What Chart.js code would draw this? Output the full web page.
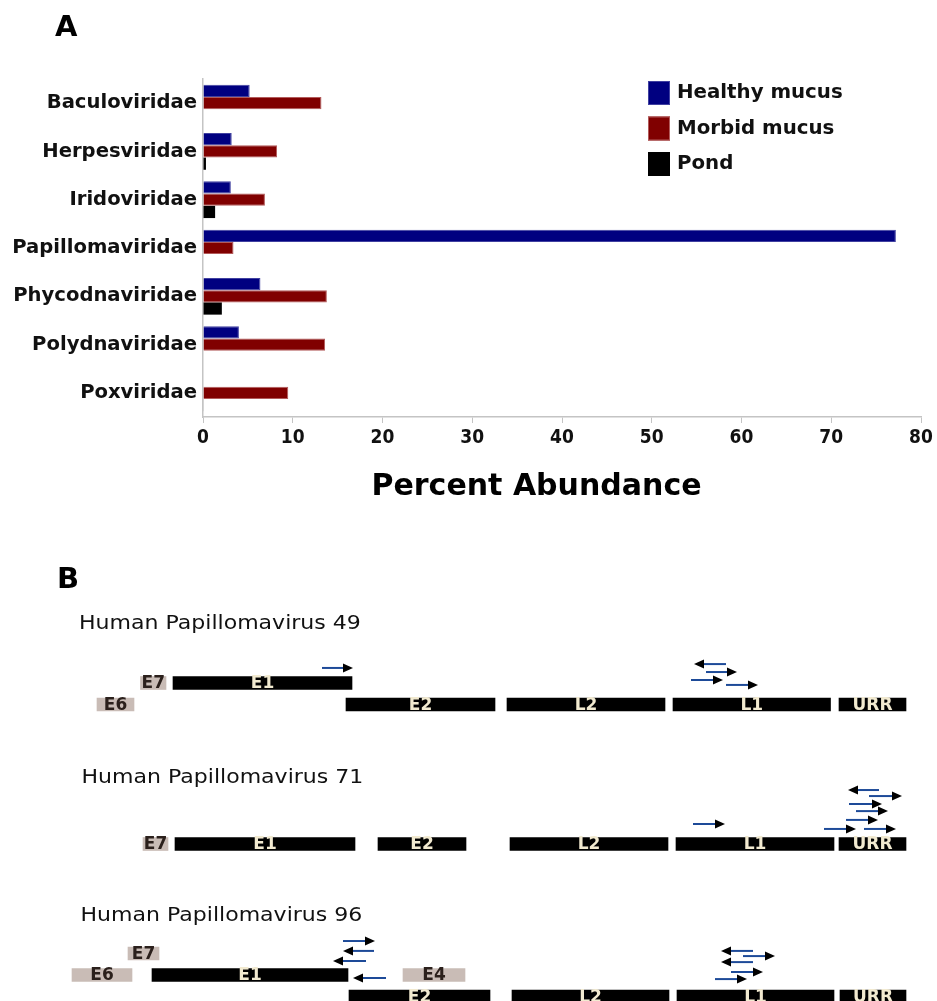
<!DOCTYPE html>
<html>
<head>
<meta charset="utf-8">
<script src="https://cdn.jsdelivr.net/npm/chart.js@4.4.1/dist/chart.umd.min.js"></script>
<style>
  html, body { margin: 0; padding: 0; background: #fff; width: 937px; height: 1001px; overflow: hidden; }
  canvas { position: absolute; left: 0; }
</style>
</head>
<body>
<canvas id="abundance" width="937" height="520" style="top:0px"></canvas>
<canvas id="hpv49" width="937" height="175" style="top:550px"></canvas>
<canvas id="hpv71" width="937" height="100" style="top:760px"></canvas>
<canvas id="hpv96" width="937" height="101" style="top:900px"></canvas>
<script>
// ---------- Panel A: viral family abundance ----------
const families = ['Baculoviridae', 'Herpesviridae', 'Iridoviridae', 'Papillomaviridae',
                  'Phycodnaviridae', 'Polydnaviridae', 'Poxviridae'];
const healthyMucus = [5.2, 3.2, 3.1, 77.2, 6.4, 4.0, 0];
const morbidMucus  = [13.2, 8.25, 6.9, 3.4, 13.8, 13.6, 9.5];
const pond         = [0, 0.33, 1.35, 0, 2.1, 0, 0.05];
const abundanceTicks = [0, 10, 20, 30, 40, 50, 60, 70, 80];
const sampleNames = ['Healthy mucus', 'Morbid mucus', 'Pond'];

// ---------- Panel B: reads mapped onto papillomavirus genomes ----------
// gene extents in genome coordinates; frame = row of the map (0 = lowest)
const hpv49Genes = [
  { gene: 'E6',  start: 970,  end: 1340, frame: 0, minor: true },
  { gene: 'E7',  start: 1405, end: 1660, frame: 1, minor: true },
  { gene: 'E1',  start: 1730, end: 3520, frame: 1 },
  { gene: 'E2',  start: 3460, end: 4950, frame: 0 },
  { gene: 'L2',  start: 5070, end: 6650, frame: 0 },
  { gene: 'L1',  start: 6730, end: 8305, frame: 0 },
  { gene: 'URR', start: 8390, end: 9060, frame: 0 }
];
const hpv49Reads = [
  { from: 3220, to: 3530, level: 1.70 },
  { from: 7260, to: 6940, level: 1.88 },
  { from: 7060, to: 7370, level: 1.51 },
  { from: 6910, to: 7230, level: 1.14 },
  { from: 7260, to: 7580, level: 0.91 }
];

const hpv71Genes = [
  { gene: 'E7',  start: 1430, end: 1680, frame: 0, minor: true },
  { gene: 'E1',  start: 1750, end: 3550, frame: 0 },
  { gene: 'E2',  start: 3780, end: 4660, frame: 0 },
  { gene: 'L2',  start: 5100, end: 6680, frame: 0 },
  { gene: 'L1',  start: 6760, end: 8340, frame: 0 },
  { gene: 'URR', start: 8390, end: 9060, frame: 0 }
];
const hpv71Reads = [
  { from: 8790, to: 8480, level: 2.51 },
  { from: 8690, to: 9020, level: 2.23 },
  { from: 8490, to: 8820, level: 1.86 },
  { from: 8560, to: 8880, level: 1.53 },
  { from: 8460, to: 8780, level: 1.12 },
  { from: 8240, to: 8560, level: 0.70 },
  { from: 8640, to: 8960, level: 0.70 },
  { from: 6930, to: 7250, level: 0.93 }
];

const hpv96Genes = [
  { gene: 'E6',  start: 720,  end: 1320, frame: 1, minor: true },
  { gene: 'E7',  start: 1280, end: 1590, frame: 2, minor: true },
  { gene: 'E1',  start: 1520, end: 3480, frame: 1 },
  { gene: 'E4',  start: 4030, end: 4650, frame: 1, minor: true },
  { gene: 'E2',  start: 3490, end: 4900, frame: 0 },
  { gene: 'L2',  start: 5120, end: 6690, frame: 0 },
  { gene: 'L1',  start: 6770, end: 8340, frame: 0 },
  { gene: 'URR', start: 8400, end: 9060, frame: 0 }
];
const hpv96Reads = [
  { from: 3430, to: 3750, level: 2.58 },
  { from: 3740, to: 3430, level: 2.12 },
  { from: 3660, to: 3330, level: 1.65 },
  { from: 3860, to: 3530, level: 0.86 },
  { from: 7530, to: 7210, level: 2.12 },
  { from: 7430, to: 7750, level: 1.88 },
  { from: 7530, to: 7210, level: 1.60 },
  { from: 7310, to: 7630, level: 1.14 },
  { from: 7150, to: 7470, level: 0.81 }
];
const genomeWindow = [0, 9370];

// ---------- styling ----------
const FAMILY = "'DejaVu Sans', 'Liberation Sans', sans-serif";
const axisGrey = '#c4c4c4';
const sampleColors = ['#000080', '#800000', '#000000'];
const sampleEdges = ['#4040a0', '#b25a5a', '#000000'];

// panel letter, legend and axis title for panel A
const panelAOverlay = {
  id: 'panelAOverlay',
  afterDraw(chart) {
    const ctx = chart.ctx;
    ctx.save();
    ctx.fillStyle = '#000';
    ctx.textBaseline = 'alphabetic';
    ctx.font = `bold 29px ${FAMILY}`;
    ctx.fillText('A', 55, 36);

    // axis title
    ctx.font = `bold 30px ${FAMILY}`;
    ctx.textAlign = 'center';
    ctx.textBaseline = 'middle';
    ctx.fillStyle = '#000';
    ctx.fillText('Percent Abundance', 536.5, 487);

    // legend
    ctx.textAlign = 'left';
    ctx.font = `bold 19.8px ${FAMILY}`;
    chart.data.datasets.forEach((ds, i) => {
      const top = 81 + i * 35.5;
      ctx.fillStyle = ds.backgroundColor;
      ctx.fillRect(648, top, 22, 24);
      ctx.strokeStyle = ds.borderColor;
      ctx.lineWidth = 1;
      ctx.strokeRect(648.5, top + 0.5, 21, 23);
      ctx.fillStyle = '#111';
      ctx.fillText(ds.label, 677, top + 12);
    });
    ctx.restore();
  }
};

new Chart(document.getElementById('abundance'), {
  type: 'bar',
  data: {
    labels: families,
    datasets: [healthyMucus, morbidMucus, pond].map((values, i) => ({
      label: sampleNames[i],
      data: values,
      backgroundColor: sampleColors[i],
      borderColor: sampleEdges[i],
      borderWidth: i < 2 ? 1 : 0
    }))
  },
  options: {
    indexAxis: 'y',
    responsive: false,
    animation: false,
    devicePixelRatio: 1,
    categoryPercentage: 0.76,
    barPercentage: 1,
    layout: { padding: { top: 79, right: 16, left: 0, bottom: 0 } },
    plugins: { legend: { display: false }, tooltip: { enabled: false } },
    scales: {
      y: {
        afterFit: s => { s.width = 203; },
        grid: { display: false, drawTicks: false },
        border: { color: axisGrey, width: 1.5 },
        ticks: { padding: 6, color: '#111', font: { family: FAMILY, size: 19.6, weight: 'bold' } }
      },
      x: {
        min: 0, max: 80,
        afterFit: s => { s.height = 103; },
        afterBuildTicks: s => { s.ticks = abundanceTicks.map(v => ({ value: v })); },
        grid: { drawOnChartArea: false, drawTicks: true, tickLength: 6, color: axisGrey },
        border: { color: axisGrey, width: 1.5 },
        ticks: { padding: 4, color: '#111', maxRotation: 0,
                 font: { family: "'DejaVu Sans Condensed', " + FAMILY, size: 19, weight: 'bold' } }
      }
    }
  },
  plugins: [panelAOverlay]
});

// ---------- genome maps ----------
const LANE_PX = 21.5;

function genomeMap(id, title, genes, reads, frame) {
  const canvas = document.getElementById(id);
  const h = canvas.height;
  const below = (h - frame.baseline) / LANE_PX;
  const above = frame.baseline / LANE_PX;

  const overlay = {
    id: 'genomeOverlay',
    afterDatasetsDraw(chart) {
      const { ctx, scales: { x, y } } = chart;
      ctx.save();
      // gene names on the blocks
      ctx.textAlign = 'center';
      ctx.textBaseline = 'middle';
      ctx.font = `bold 17px ${FAMILY}`;
      chart.data.datasets.forEach((ds, di) => {
        const meta = chart.getDatasetMeta(di);
        meta.data.forEach((el, i) => {
          ctx.fillStyle = ds.labelColor;
          ctx.fillText(ds.data[i].gene, (el.x + el.base) / 2, el.y + 1);
        });
      });
      // mapped reads as arrows
      reads.forEach(r => {
        const x1 = x.getPixelForValue(r.from);
        const x2 = x.getPixelForValue(r.to);
        const py = y.getPixelForValue(r.level);
        const dir = Math.sign(x2 - x1);
        const head = 10;
        ctx.strokeStyle = '#1d4a98';
        ctx.lineWidth = 2;
        ctx.beginPath();
        ctx.moveTo(x1, py);
        ctx.lineTo(x2 - dir * head, py);
        ctx.stroke();
        ctx.fillStyle = '#000';
        ctx.beginPath();
        ctx.moveTo(x2, py);
        ctx.lineTo(x2 - dir * head, py - 4.5);
        ctx.lineTo(x2 - dir * head, py + 4.5);
        ctx.closePath();
        ctx.fill();
      });
      // genome name
      ctx.textAlign = 'left';
      ctx.textBaseline = 'alphabetic';
      ctx.fillStyle = '#111';
      ctx.font = `19px ${FAMILY}`;
      ctx.save();
      ctx.translate(frame.titleX, frame.titleY);
      ctx.scale(1.16, 1);
      ctx.fillText(title, 0, 0);
      ctx.restore();
      if (frame.letter) {
        ctx.fillStyle = '#000';
        ctx.font = `bold 29px ${FAMILY}`;
        ctx.fillText(frame.letter, 57, frame.letterY);
      }
      ctx.restore();
    }
  };

  const asBars = list => list.map(g => ({ x: [g.start, g.end], y: g.frame, gene: g.gene }));

  new Chart(canvas, {
    type: 'bar',
    data: {
      datasets: [
        { label: 'ORF', data: asBars(genes.filter(g => !g.minor)), backgroundColor: '#000000',
          labelColor: '#f2ead0', stack: 'genome', barThickness: 13 },
        { label: 'Minor ORF', data: asBars(genes.filter(g => g.minor)), backgroundColor: '#c9bcb6',
          labelColor: '#2b201c', stack: 'genome', barThickness: 13 }
      ]
    },
    options: {
      indexAxis: 'y',
      responsive: false,
      animation: false,
      devicePixelRatio: 1,
      layout: { padding: 0 },
      plugins: { legend: { display: false }, tooltip: { enabled: false } },
      scales: {
        x: { type: 'linear', display: false, min: genomeWindow[0], max: genomeWindow[1], stacked: false },
        y: { type: 'linear', display: false, min: -below, max: above, offset: false }
      }
    },
    plugins: [overlay]
  });
}

genomeMap('hpv49', 'Human Papillomavirus 49', hpv49Genes, hpv49Reads,
  { baseline: 154.5, titleX: 79, titleY: 79, letter: 'B', letterY: 38 });
genomeMap('hpv71', 'Human Papillomavirus 71', hpv71Genes, hpv71Reads,
  { baseline: 84, titleX: 81.5, titleY: 23 });
genomeMap('hpv96', 'Human Papillomavirus 96', hpv96Genes, hpv96Reads,
  { baseline: 96.5, titleX: 80.5, titleY: 21 });
</script>
</body>
</html>
